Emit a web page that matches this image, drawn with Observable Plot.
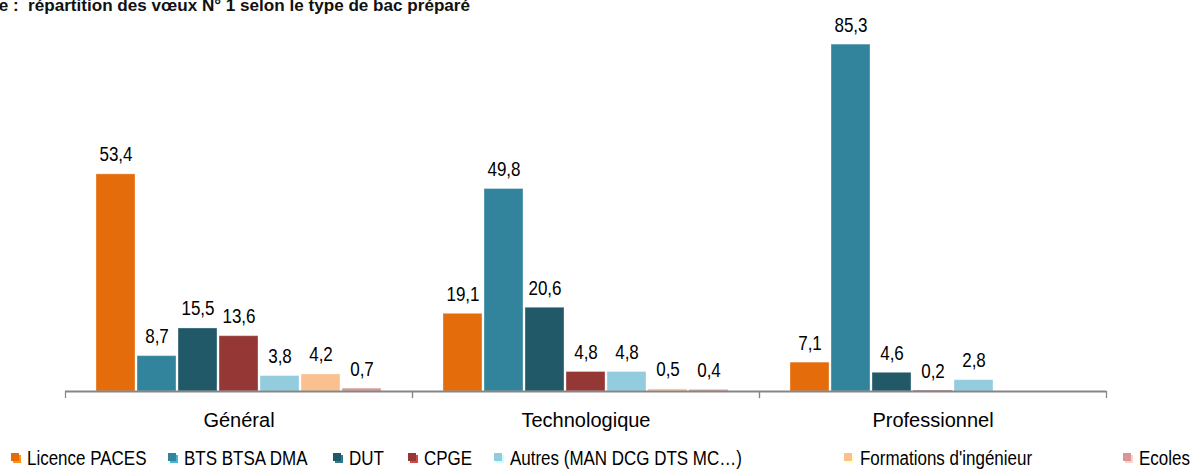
<!DOCTYPE html>
<html>
<head>
<meta charset="utf-8">
<script src="https://cdn.jsdelivr.net/npm/d3@7"></script>
<script src="https://cdn.jsdelivr.net/npm/@observablehq/plot@0.6"></script>
<style>
  html, body { margin: 0; padding: 0; background: #fff; }
  #wrap { position: relative; width: 1203px; height: 469px; overflow: hidden; font-family: "Liberation Sans", Arial, sans-serif; }
  #title { position: absolute; z-index: 5; top: -3px; right: 733px; white-space: nowrap; font-weight: bold; font-size: 17.1px; line-height: 18px; color: #111; }
  #chart { position: absolute; top: 0; left: 0; z-index: 1; }
  #legend { position: absolute; top: 0; left: 0; z-index: 2; }
  .lg-item { position: absolute; top: 447px; height: 22px; }
  .lg-sw { position: absolute; top: 6px; width: 8px; height: 8px; }
  .lg-tx { position: absolute; left: 16px; top: 0; font-size: 19.5px; line-height: 22px; white-space: nowrap; color: #000; transform: scaleX(0.87); transform-origin: left center; }
</style>
</head>
<body>
<div id="wrap">
  <div id="chart"></div>
  <div id="legend"></div>
  <div id="title"></div>
</div>
<script>
const titleText = "Graphique :\u00a0 répartition des vœux N° 1 selon le type de bac préparé";
const groups = ["Général", "Technologique", "Professionnel"];
const categories = ["Licence PACES", "BTS BTSA DMA", "DUT", "CPGE", "Autres (MAN DCG DTS MC…)", "Formations d'ingénieur", "Ecoles"];
const colors = ["#E46C0A", "#31849B", "#215968", "#953735", "#93CDDD", "#FAC090", "#D99694"];
const general = [53.4, 8.7, 15.5, 13.6, 3.8, 4.2, 0.7];
const technologique = [19.1, 49.8, 20.6, 4.8, 4.8, 0.5, 0.4];
const professionnel = [7.1, 85.3, 4.6, 0.2, 2.8, null, null];

// layout constants (styling only)
const legendLeft = [11, 168, 333, 408, 494, 844, 1123];

const series = [general, technologique, professionnel];
const rows = [];
groups.forEach((g, gi) => {
  categories.forEach((c, ci) => {
    const v = series[gi][ci];
    if (v != null) rows.push({group: g, category: c, value: v});
  });
});

const fmt = (v) => d3.format(".1f")(v).replace(".", ",");

document.getElementById("title").textContent = titleText;

const plot = Plot.plot({
  width: 1203,
  height: 440,
  marginLeft: 64,
  marginRight: 97,
  marginTop: 25,
  marginBottom: 49,
  style: {fontFamily: "'Liberation Sans', Arial, sans-serif", fontSize: "20px", color: "#000", background: "white", overflow: "visible"},
  fx: {domain: groups, padding: 0, label: null},
  x: {domain: categories, paddingInner: 0.05, paddingOuter: 0.755, axis: null},
  y: {domain: [0, 90], axis: null},
  color: {domain: categories, range: colors},
  marks: [
    Plot.barY(rows, {fx: "group", x: "category", y: "value", fill: "category", stroke: "white", strokeOpacity: 0.35, strokeWidth: 1}),
    Plot.ruleY([0], {stroke: "#868686", strokeWidth: 2}),
    Plot.frame({anchor: "left", stroke: "#868686", strokeWidth: 1.2, insetTop: 366, insetBottom: -6}),
    Plot.frame({anchor: "right", stroke: "#868686", strokeWidth: 1.2, insetTop: 366, insetBottom: -6}),
    Plot.text(rows, {fx: "group", x: "category", y: "value", text: (d) => fmt(d.value), lineAnchor: "bottom", dy: -13, fontSize: 20.5, fill: "#000", className: "vlab"}),
    Plot.axisFx({anchor: "bottom", tickSize: 0, tickPadding: 21, fontSize: 20, label: null, fill: "#000"})
  ]
});
document.getElementById("chart").appendChild(plot);

// condense data labels horizontally like the reference
plot.querySelectorAll(".vlab text").forEach((t) => {
  const tr = t.getAttribute("transform");
  if (tr) t.setAttribute("transform", tr + " scale(0.83,1)");
  else {
    const x = +(t.getAttribute("x") || 0);
    t.setAttribute("x", x / 0.83);
    t.setAttribute("transform", "scale(0.83,1)");
  }
});

const legend = document.getElementById("legend");
categories.forEach((c, i) => {
  const item = document.createElement("div");
  item.className = "lg-item";
  item.style.left = legendLeft[i] + "px";
  const sw = document.createElement("div");
  sw.className = "lg-sw";
  sw.style.background = colors[i];
  sw.style.boxShadow = "2px 2px 0 " + d3.color(colors[i]).brighter(0.9).formatHex();
  const tx = document.createElement("div");
  tx.className = "lg-tx";
  tx.textContent = c;
  item.appendChild(sw);
  item.appendChild(tx);
  legend.appendChild(item);
});
</script>
</body>
</html>
